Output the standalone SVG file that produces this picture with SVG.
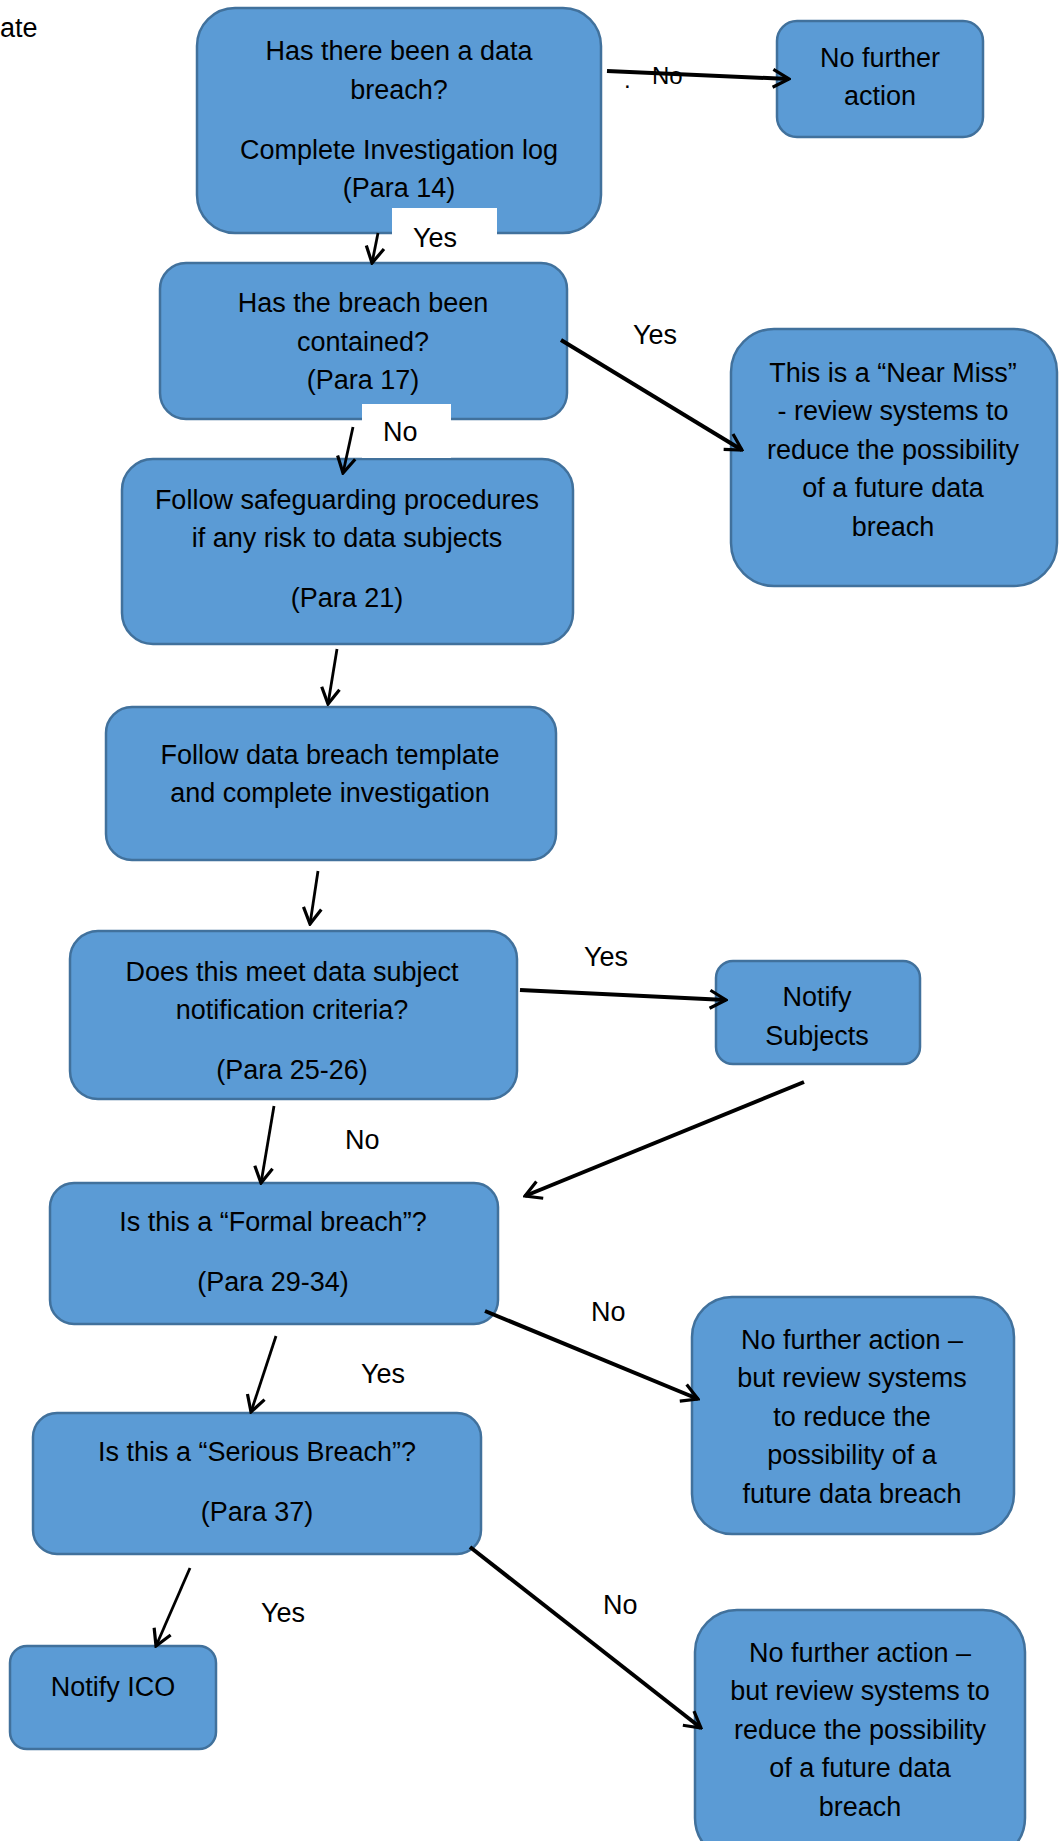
<svg xmlns="http://www.w3.org/2000/svg" width="1059" height="1841" viewBox="0 0 1059 1841">
<style>
.box{fill:#5B9BD5;stroke:#41719C;stroke-width:2.5}
text{font-family:"Liberation Sans",Arial,sans-serif;font-size:27px;fill:#000}
.c{text-anchor:middle}
.ln{stroke:#000;fill:none;stroke-width:2.8}
.th{stroke-width:4}
.wb{fill:#fff}
</style>
<defs>
<marker id="ah" markerUnits="userSpaceOnUse" viewBox="-20 -12 22 24" refX="0" refY="0" markerWidth="22" markerHeight="24" orient="auto">
<path d="M-16,-9 L0,0 L-16,9" fill="none" stroke="#000" stroke-width="3.2"/>
</marker>
</defs>
<rect width="1059" height="1841" fill="#fff"/>
<text x="0" y="37">ate</text>

<g id="n1"><rect class="box" x="197" y="8" width="404" height="225" rx="38"/>
<text class="c" x="399" y="60">Has there been a data</text>
<text class="c" x="399" y="99">breach?</text>
<text class="c" x="399" y="159">Complete Investigation log</text>
<text class="c" x="399" y="197">(Para 14)</text></g>

<g id="n2"><rect class="box" x="777" y="21" width="206" height="116" rx="20"/>
<text class="c" x="880" y="67">No further</text>
<text class="c" x="880" y="105">action</text></g>

<g id="n3"><rect class="box" x="160" y="263" width="407" height="156" rx="26"/>
<text class="c" x="363" y="312">Has the breach been</text>
<text class="c" x="363" y="351">contained?</text>
<text class="c" x="363" y="389">(Para 17)</text></g>

<g id="n_nearmiss"><rect class="box" x="731" y="329" width="326" height="257" rx="43"/>
<text class="c" x="893" y="382">This is a “Near Miss”</text>
<text class="c" x="893" y="420">- review systems to</text>
<text class="c" x="893" y="459">reduce the possibility</text>
<text class="c" x="893" y="497">of a future data</text>
<text class="c" x="893" y="536">breach</text></g>

<g id="n4"><rect class="box" x="122" y="459" width="451" height="185" rx="31"/>
<text class="c" x="347" y="509">Follow safeguarding procedures</text>
<text class="c" x="347" y="547">if any risk to data subjects</text>
<text class="c" x="347" y="607">(Para 21)</text></g>

<g id="n5"><rect class="box" x="106" y="707" width="450" height="153" rx="26"/>
<text class="c" x="330" y="764">Follow data breach template</text>
<text class="c" x="330" y="802">and complete investigation</text></g>

<g id="n6"><rect class="box" x="70" y="931" width="447" height="168" rx="28"/>
<text class="c" x="292" y="981">Does this meet data subject</text>
<text class="c" x="292" y="1019">notification criteria?</text>
<text class="c" x="292" y="1079">(Para 25-26)</text></g>

<g id="n_notify_subjects"><rect class="box" x="716" y="961" width="204" height="103" rx="17"/>
<text class="c" x="817" y="1006">Notify</text>
<text class="c" x="817" y="1045">Subjects</text></g>

<g id="n7"><rect class="box" x="50" y="1183" width="448" height="141" rx="24"/>
<text class="c" x="273" y="1231">Is this a “Formal breach”?</text>
<text class="c" x="273" y="1291">(Para 29-34)</text></g>

<g id="n_nfa1"><rect class="box" x="692" y="1297" width="322" height="237" rx="40"/>
<text class="c" x="852" y="1349">No further action –</text>
<text class="c" x="852" y="1387">but review systems</text>
<text class="c" x="852" y="1426">to reduce the</text>
<text class="c" x="852" y="1464">possibility of a</text>
<text class="c" x="852" y="1503">future data breach</text></g>

<g id="n8"><rect class="box" x="33" y="1413" width="448" height="141" rx="24"/>
<text class="c" x="257" y="1461">Is this a “Serious Breach”?</text>
<text class="c" x="257" y="1521">(Para 37)</text></g>

<g id="n_ico"><rect class="box" x="10" y="1646" width="206" height="103" rx="17"/>
<text class="c" x="113" y="1696">Notify ICO</text></g>

<g id="n_nfa2"><rect class="box" x="695" y="1610" width="330" height="250" rx="42"/>
<text class="c" x="860" y="1662">No further action –</text>
<text class="c" x="860" y="1700">but review systems to</text>
<text class="c" x="860" y="1739">reduce the possibility</text>
<text class="c" x="860" y="1777">of a future data</text>
<text class="c" x="860" y="1816">breach</text></g>

<g id="labels">
<rect class="wb" x="392" y="208" width="105" height="50"/>
<text x="413" y="247">Yes</text>
<rect class="wb" x="362" y="404" width="89" height="54"/>
<text x="383" y="441">No</text>
<text x="624" y="88" style="font-size:24px">.</text>
<text x="652" y="84" style="font-size:24px">No</text>
<text x="633" y="344">Yes</text>
<text x="584" y="966">Yes</text>
<text x="345" y="1149">No</text>
<text x="591" y="1321">No</text>
<text x="361" y="1383">Yes</text>
<text x="603" y="1614">No</text>
<text x="261" y="1622">Yes</text>
</g>

<g id="connectors">
<line class="ln th" x1="607" y1="71" x2="789" y2="79" marker-end="url(#ah)"/>
<line class="ln" x1="378" y1="233" x2="372" y2="263" marker-end="url(#ah)"/>
<line class="ln th" x1="561" y1="340" x2="742" y2="450" marker-end="url(#ah)"/>
<line class="ln" x1="353" y1="427" x2="343" y2="473" marker-end="url(#ah)"/>
<line class="ln" x1="337" y1="649" x2="328" y2="704" marker-end="url(#ah)"/>
<line class="ln" x1="318" y1="871" x2="310" y2="924" marker-end="url(#ah)"/>
<line class="ln th" x1="520" y1="990" x2="726" y2="1000" marker-end="url(#ah)"/>
<line class="ln th" x1="804" y1="1082" x2="525" y2="1196" marker-end="url(#ah)"/>
<line class="ln" x1="274" y1="1106" x2="261" y2="1183" marker-end="url(#ah)"/>
<line class="ln th" x1="485" y1="1311" x2="698" y2="1399" marker-end="url(#ah)"/>
<line class="ln" x1="276" y1="1336" x2="251" y2="1412" marker-end="url(#ah)"/>
<line class="ln th" x1="470" y1="1547" x2="701" y2="1728" marker-end="url(#ah)"/>
<line class="ln" x1="190" y1="1568" x2="156" y2="1646" marker-end="url(#ah)"/>
</g>
</svg>
